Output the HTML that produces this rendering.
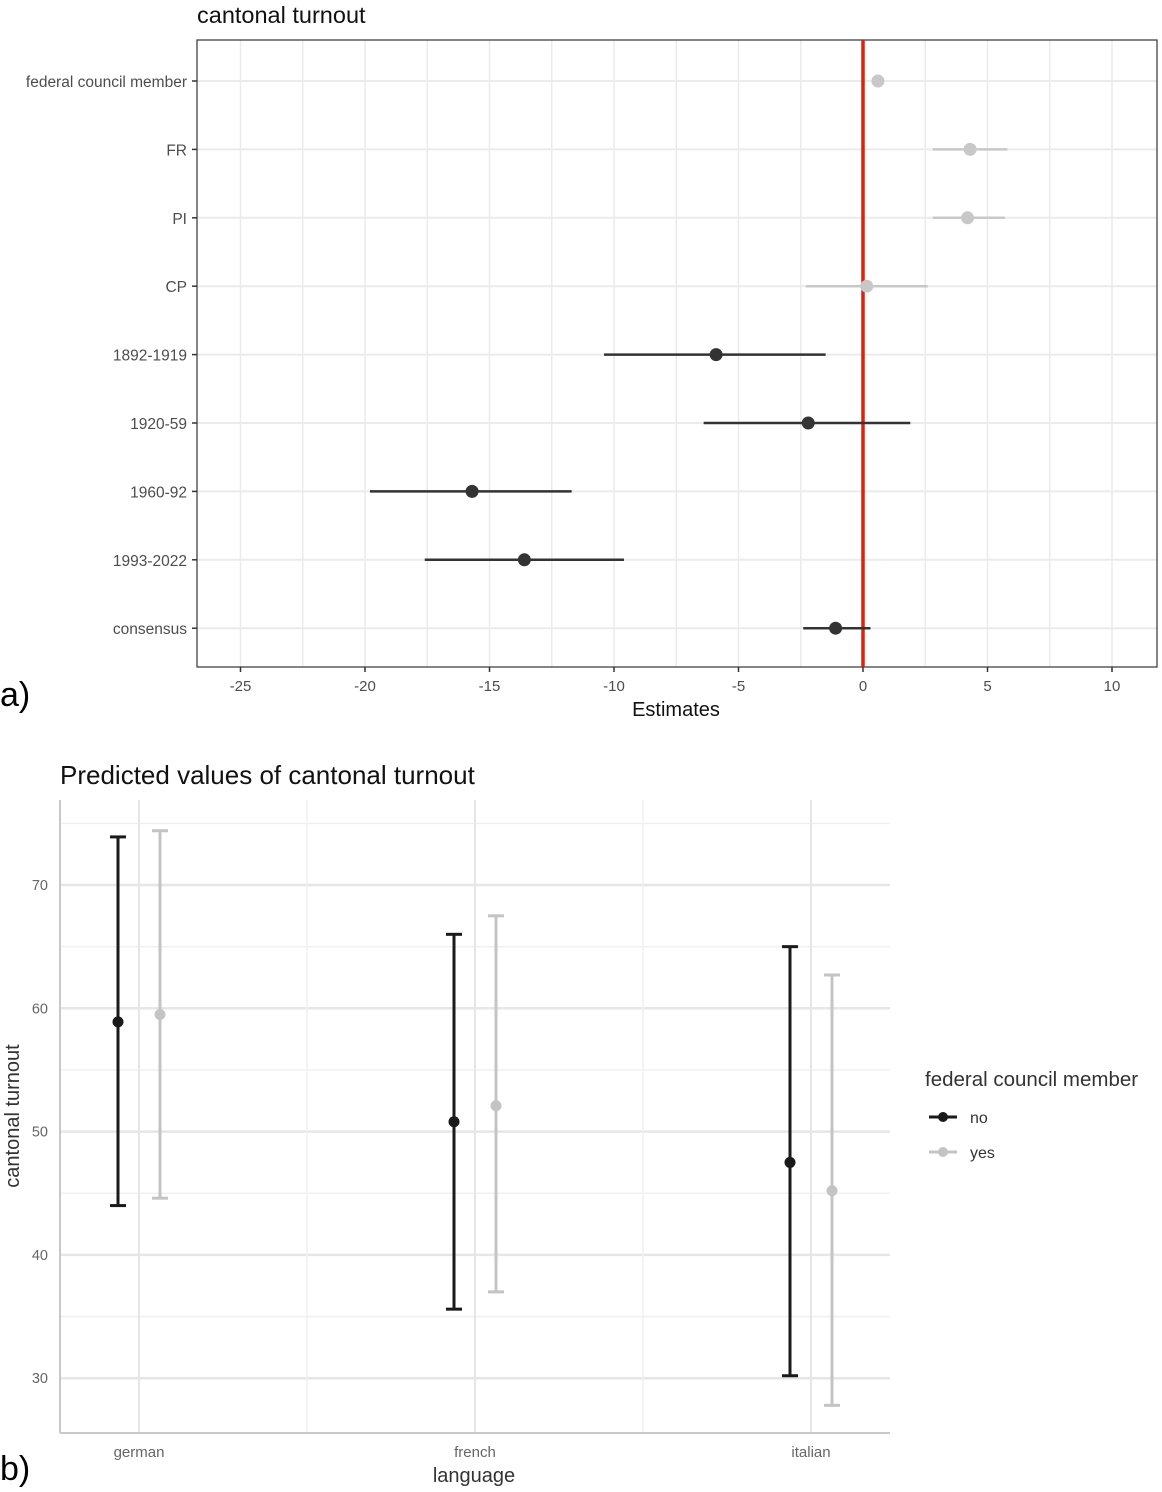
<!DOCTYPE html>
<html><head><meta charset="utf-8">
<style>
html,body{margin:0;padding:0;background:#fff;}
svg{display:block;font-family:"Liberation Sans",sans-serif;}
</style></head>
<body>
<svg id="s" width="1162" height="1492" viewBox="0 0 1162 1492"></svg>
<script>
// ---- Chart a data ----
const termLabels = ["federal council member","FR","PI","CP","1892-1919","1920-59","1960-92","1993-2022","consensus"];
const estimates = [0.6,4.3,4.2,0.15,-5.9,-2.2,-15.7,-13.6,-1.1];
const ciLow = [0.6,2.8,2.8,-2.3,-10.4,-6.4,-19.8,-17.6,-2.4];
const ciHigh = [0.6,5.8,5.7,2.6,-1.5,1.9,-11.7,-9.6,0.3];
const significant = [false,false,false,false,true,true,true,true,true];
const xTicksA = [-25,-20,-15,-10,-5,0,5,10];
// ---- Chart b data ----
const languages = ["german","french","italian"];
const groups = ["no","yes"];
const predNo = [58.9,50.8,47.5];
const predNoLow = [44.0,35.6,30.2];
const predNoHigh = [73.9,66.0,65.0];
const predYes = [59.5,52.1,45.2];
const predYesLow = [44.6,37.0,27.8];
const predYesHigh = [74.4,67.5,62.7];
const yTicksB = [30,40,50,60,70];

const NS="http://www.w3.org/2000/svg";
const svg=document.getElementById('s');
function mk(tag,attrs,parent,name,text){
  const e=document.createElementNS(NS,tag);
  for(const k in attrs)e.setAttribute(k,attrs[k]);
  
  
  if(text!==undefined)e.textContent=text;
  (parent||svg).appendChild(e);return e;
}
// ===== Chart A =====
const aL=197,aR=1157,aT=40,aB=667;
const xA=v=>863+v*24.9;
const yA=i=>81+i*68.4;
mk('text',{x:197,y:23,'font-size':23.5,fill:'#111'},svg,'chart-a-title','cantonal turnout');
const gA=mk('g',{},svg,'chart-a-plot');
for(let v=-27.5;v<=12.5;v+=2.5){const x=xA(v);if(x<aL||x>aR)continue;
  mk('line',{x1:x,x2:x,y1:aT,y2:aB,stroke:'#ebebeb','stroke-width':1.5},gA,'x-grid-line');}
termLabels.forEach((t,i)=>{const y=yA(i);
  mk('line',{x1:aL,x2:aR,y1:y,y2:y,stroke:'#ebebeb','stroke-width':2},gA,'y-grid-line');
  mk('line',{x1:aL-5,x2:aL,y1:y,y2:y,stroke:'#333','stroke-width':1.5},gA,'y-tick');
  mk('text',{x:aL-10,y:y+6,'text-anchor':'end','font-size':15.5,fill:'#4d4d4d'},gA,'y-tick-label',t);
});
xTicksA.forEach(v=>{const x=xA(v);
  mk('line',{x1:x,x2:x,y1:aB,y2:aB+5,stroke:'#333','stroke-width':1.5},gA,'x-tick');
  mk('text',{x:x,y:aB+24,'text-anchor':'middle','font-size':15,fill:'#4d4d4d'},gA,'x-tick-label',String(v));
});
mk('rect',{x:aL,y:aT,width:aR-aL,height:aB-aT,fill:'none',stroke:'#333','stroke-width':1.2},gA,'chart-a-border');
mk('line',{x1:xA(0),x2:xA(0),y1:aT,y2:aB,stroke:'#e0200f','stroke-width':3.5},gA,'zero-reference-line');
termLabels.forEach((t,i)=>{const y=yA(i);const c=significant[i]?'#333':'#c8c8c8';
  mk('line',{x1:xA(ciLow[i]),x2:xA(ciHigh[i]),y1:y,y2:y,stroke:c,'stroke-width':2.5},gA,'ci-line');
  mk('circle',{cx:xA(estimates[i]),cy:y,r:6.5,fill:c},gA,'estimate-point');
});
mk('text',{x:676,y:716,'text-anchor':'middle','font-size':20,fill:'#111'},svg,'x-axis-title','Estimates');
mk('text',{x:0,y:706,'font-size':34,fill:'#000'},svg,'panel-label-a','a)');
// ===== Chart B =====
const bL=60,bR=890,bT=800,bB=1433;
const xB=i=>139+i*336;
const yB=v=>885-(v-70)*12.33;
mk('text',{x:60,y:784,'font-size':26,fill:'#111'},svg,'chart-b-title','Predicted values of cantonal turnout');
const gB=mk('g',{},svg,'chart-b-plot');
for(let v=25;v<=75;v+=5){const y=yB(v);if(y<bT||y>bB)continue;
  mk('line',{x1:bL,x2:bR,y1:y,y2:y,stroke:v%10===0?'#e6e6e6':'#f0f0f0','stroke-width':v%10===0?2.5:1.5},gB,'y-grid-line');}
[139,307,475,643,811].forEach((x,k)=>{
  mk('line',{x1:x,x2:x,y1:bT,y2:bB,stroke:k%2===0?'#e6e6e6':'#f0f0f0','stroke-width':k%2===0?2:1.5},gB,'x-grid-line');});
mk('line',{x1:bL,x2:bL,y1:bT,y2:bB,stroke:'#c8c8c8','stroke-width':2},gB,'y-axis-line');
mk('line',{x1:bL,x2:bR,y1:bB,y2:bB,stroke:'#c8c8c8','stroke-width':2},gB,'x-axis-line');
yTicksB.forEach(v=>mk('text',{x:48,y:yB(v)+5,'text-anchor':'end','font-size':14.5,fill:'#666'},gB,'y-tick-label',String(v)));
languages.forEach((l,i)=>mk('text',{x:xB(i),y:1457,'text-anchor':'middle','font-size':15,fill:'#666'},gB,'x-tick-label',l));
function series(vals,lo,hi,dx,c,nm){
  languages.forEach((l,i)=>{const x=xB(i)+dx;
    mk('line',{x1:x,x2:x,y1:yB(hi[i]),y2:yB(lo[i]),stroke:c,'stroke-width':3},gB,nm+'-ci');
    mk('line',{x1:x-8,x2:x+8,y1:yB(hi[i]),y2:yB(hi[i]),stroke:c,'stroke-width':3},gB,nm+'-ci-cap-top');
    mk('line',{x1:x-8,x2:x+8,y1:yB(lo[i]),y2:yB(lo[i]),stroke:c,'stroke-width':3},gB,nm+'-ci-cap-bottom');
    mk('circle',{cx:x,cy:yB(vals[i]),r:5.5,fill:c},gB,nm+'-point');
  });
}
series(predNo,predNoLow,predNoHigh,-21,'#1a1a1a','no');
series(predYes,predYesLow,predYesHigh,21,'#c4c4c4','yes');
mk('text',{x:474,y:1482,'text-anchor':'middle','font-size':20,fill:'#333'},svg,'x-axis-title-b','language');
mk('text',{x:19,y:1116,'text-anchor':'middle','font-size':20,fill:'#333',transform:'rotate(-90 19 1116)'},svg,'y-axis-title-b','cantonal turnout');
const lg=mk('g',{},svg,'legend');
mk('text',{x:925,y:1086,'font-size':20.5,fill:'#333'},lg,'legend-title','federal council member');
[['no','#1a1a1a',1117],['yes','#c4c4c4',1152]].forEach(([t,c,y])=>{
  mk('line',{x1:929,x2:957,y1:y,y2:y,stroke:c,'stroke-width':3},lg,'legend-key-line');
  mk('circle',{cx:943,cy:y,r:5,fill:c},lg,'legend-key-point');
  mk('text',{x:970,y:y+6,'font-size':16,fill:'#333'},lg,'legend-entry-'+t,t);
});
mk('text',{x:0,y:1480,'font-size':34,fill:'#000'},svg,'panel-label-b','b)');
</script>
</body></html>
